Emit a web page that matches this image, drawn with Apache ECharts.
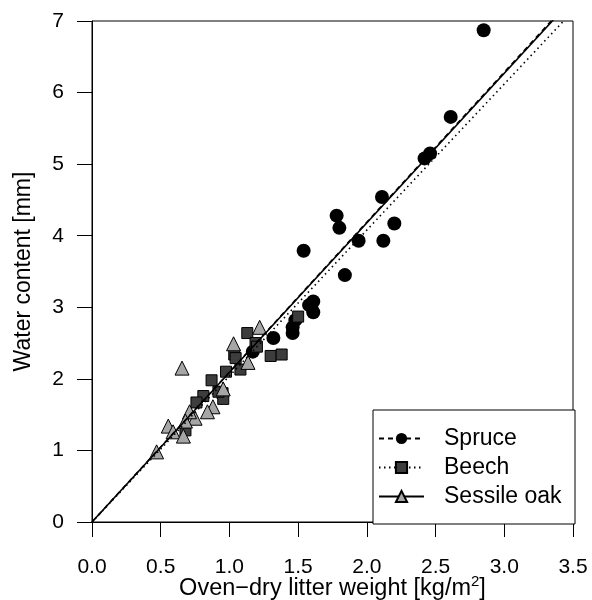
<!DOCTYPE html>
<html>
<head>
<meta charset="utf-8">
<script src="https://cdn.jsdelivr.net/npm/echarts@6/dist/echarts.min.js"></script>
<style>html,body{margin:0;padding:0;background:#fff;}#c{width:592px;height:600px;}</style>
</head>
<body>
<div id="c"></div>
<script>
const seriesNames = ['Spruce', 'Beech', 'Sessile oak'];
const spruceX = [2.85, 2.61, 2.42, 2.46, 2.11, 1.78, 1.80, 2.20, 1.94, 2.12, 1.54, 1.84, 1.61, 1.58, 1.61, 1.48, 1.46, 1.46, 1.32, 1.17];
const spruceY = [6.87, 5.66, 5.08, 5.15, 4.54, 4.28, 4.11, 4.17, 3.93, 3.93, 3.79, 3.45, 3.08, 3.03, 2.93, 2.82, 2.72, 2.64, 2.57, 2.38];
const beechX = [1.50, 1.13, 1.19, 1.20, 1.035, 1.045, 1.30, 1.38, 1.08, 0.975, 0.87, 0.81, 0.76, 0.95, 0.955, 0.92, 0.68];
const beechY = [2.87, 2.64, 2.50, 2.45, 2.34, 2.29, 2.32, 2.34, 2.13, 2.10, 1.98, 1.76, 1.67, 1.80, 1.72, 1.82, 1.28];
const oakX = [1.22, 1.03, 0.655, 1.135, 0.955, 0.88, 0.84, 0.75, 0.71, 0.68, 0.555, 0.59, 0.665, 0.47];
const oakY = [2.72, 2.49, 2.15, 2.23, 1.86, 1.61, 1.54, 1.45, 1.54, 1.41, 1.34, 1.26, 1.20, 0.98];
// slopes of regression lines through the origin
const fitSlopes = [2.095, 2.04, 2.09];
const xTicks = [0, 0.5, 1, 1.5, 2, 2.5, 3, 3.5];
const yTicks = [0, 1, 2, 3, 4, 5, 6, 7];

const FONT = 'Liberation Sans, Arial, Helvetica, sans-serif';
const zip = (a, b) => a.map((v, i) => [v, b[i]]);
const pts = [zip(spruceX, spruceY), zip(beechX, beechY), zip(oakX, oakY)];
const xMax = xTicks[xTicks.length - 1];
const symbols = ['circle', 'rect', 'triangle'];
const sizes = [14, 11, 14];
const fills = ['#000000', '#3d3d3d', '#a6a6a6'];
const lineTypes = [[5, 4], [1.5, 3.5], 'solid'];

const series = [];
seriesNames.forEach((n, i) => {
  series.push({
    name: n, type: 'line', z: 5,
    data: [[0, 0], [xMax, xMax * fitSlopes[i]]],
    showSymbol: false, symbol: symbols[i], symbolSize: sizes[i],
    itemStyle: { color: fills[i], borderColor: '#000', borderWidth: i === 0 ? 0 : 1 },
    lineStyle: { color: '#000', width: 1.6, type: lineTypes[i] },
    silent: true, animation: false, clip: true
  });
});
seriesNames.forEach((n, i) => {
  series.push({
    name: n, type: 'scatter', z: 2 + i * 0.1,
    data: pts[i], symbol: symbols[i], symbolSize: sizes[i],
    itemStyle: { color: fills[i], borderColor: '#000', borderWidth: i === 0 ? 0 : 1, opacity: 1 },
    animation: false
  });
});

const chart = echarts.init(document.getElementById('c'), null, { renderer: 'canvas' });
chart.setOption({
  backgroundColor: '#fff',
  animation: false,
  textStyle: { fontFamily: FONT, color: '#000' },
  grid: { left: 92, width: 481, top: 21, height: 501, outerBoundsMode: 'none', containLabel: false,
    show: true, borderColor: '#000', borderWidth: 1, backgroundColor: 'transparent' },
  xAxis: {
    type: 'value', min: xTicks[0], max: xMax, interval: 0.5,
    name: 'Oven\u2212dry litter weight [kg/m{sup|2}]',
    nameLocation: 'middle', nameGap: 52, nameMoveOverlap: false,
    nameTextStyle: { fontFamily: FONT, fontSize: 23.5, color: '#000',
      rich: { sup: { fontFamily: FONT, fontSize: 15, color: '#000', verticalAlign: 'top', padding: [0, 0, 14, 0] } } },
    axisLine: { show: true, lineStyle: { color: '#000', width: 1 } },
    axisTick: { show: true, inside: false, length: 15, lineStyle: { color: '#000', width: 1 } },
    axisLabel: { fontFamily: FONT, fontSize: 21, color: '#000', margin: 35, formatter: v => v.toFixed(1) },
    splitLine: { show: false }
  },
  yAxis: {
    type: 'value', min: yTicks[0], max: yTicks[yTicks.length - 1], interval: 1,
    name: 'Water content [mm]', nameLocation: 'middle', nameGap: 57, nameMoveOverlap: false,
    nameTextStyle: { fontFamily: FONT, fontSize: 23, color: '#000' },
    axisLine: { show: true, lineStyle: { color: '#000', width: 1 } },
    axisTick: { show: true, inside: false, length: 15, lineStyle: { color: '#000', width: 1 } },
    axisLabel: { fontFamily: FONT, fontSize: 21, color: '#000', margin: 28 },
    splitLine: { show: false }
  },
  legend: {
    data: seriesNames, orient: 'vertical', left: 373, top: 410,
    backgroundColor: '#fff', borderColor: '#000', borderWidth: 1,
    padding: [17, 11, 16, 5], itemGap: 6, itemWidth: 45, itemHeight: 14,
    textStyle: { fontFamily: FONT, fontSize: 23, color: '#000', lineHeight: 22, width: 120, padding: [0, 0, 0, 15] },
    selectedMode: false
  },
  series: series
});
</script>
</body>
</html>
